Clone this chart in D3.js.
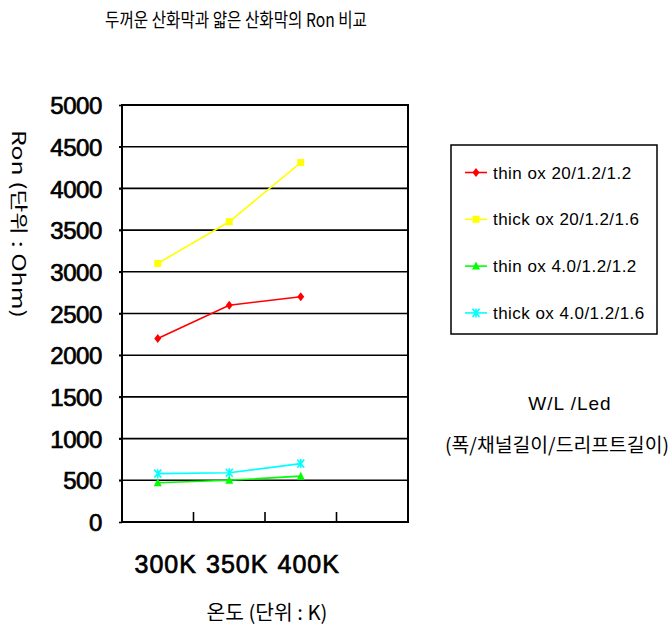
<!DOCTYPE html>
<html><head><meta charset="utf-8">
<script src="https://cdn.jsdelivr.net/npm/d3@7/dist/d3.min.js"></script>
<style>body{margin:0;background:#fff}svg{display:block}</style>
</head><body>
<svg id="c" width="670" height="627"></svg>
<script>
const categories = ["300K", "350K", "400K", ""];
const seriesNames = ["thin ox 20/1.2/1.2", "thick ox 20/1.2/1.6", "thin ox 4.0/1.2/1.2", "thick ox 4.0/1.2/1.6"];
const seriesColors = ["#ff0000", "#ffff00", "#00ff00", "#00ffff"];
const seriesMarkers = ["diamond", "square", "triangle", "x"];
const thinOx20 = [2200, 2600, 2700];
const thickOx20 = [3100, 3600, 4310];
const thinOx40 = [470, 500, 550];
const thickOx40 = [580, 590, 700];
const yTicks = [0, 500, 1000, 1500, 2000, 2500, 3000, 3500, 4000, 4500, 5000];
const titleText = "두꺼운 산화막과 얇은 산화막의 Ron 비교";
const yTitle = "Ron (단위 : Ohm)";
const xTitle = "온도 (단위 : K)";
const noteLines = ["W/L /Led", "(폭/채널길이/드리프트길이)"];

const series = [thinOx20, thickOx20, thinOx40, thickOx40];
const svg = d3.select("#c");
const L = 122, R = 408, T = 105, B = 522;
const x = d3.scaleBand().domain(categories).range([L, R]);
const y = d3.scaleLinear().domain([0, 5000]).range([B, T]);
const latin = "'Liberation Sans', Arial, sans-serif";
const kr = "'Noto Sans CJK KR', sans-serif";

// title
svg.append("text").attr("x", 236).attr("y", 27).attr("text-anchor", "middle")
  .attr("font-family", kr).attr("font-size", 19).attr("textLength", 262)
  .attr("lengthAdjust", "spacingAndGlyphs").text(titleText);

// gridlines
svg.append("g").selectAll("line").data(yTicks.filter(d => d > 0 && d < 5000)).join("line")
  .attr("x1", L - 3).attr("x2", R).attr("y1", d => y(d)).attr("y2", d => y(d))
  .attr("stroke", "#000").attr("stroke-width", 1.6);

// y axis labels
const ya = svg.append("g").attr("transform", `translate(${L},0)`)
  .call(d3.axisLeft(y).tickValues(yTicks).tickSize(3).tickPadding(17).tickFormat(d3.format("d")));
ya.select(".domain").remove();
ya.selectAll("line").attr("stroke", "#000").attr("stroke-width", 1.6);
ya.selectAll("text").attr("font-family", latin).attr("font-size", 24)
  .attr("letter-spacing", -0.4).attr("fill", "#000").attr("stroke", "#000").attr("stroke-width", 0.7)
  .attr("dy", "0.36em");

// x axis
const xa = svg.append("g").attr("transform", `translate(0,${B})`)
  .call(d3.axisBottom(x).tickSize(0).tickPadding(33));
xa.select(".domain").remove();
xa.selectAll("text").attr("font-family", latin).attr("font-size", 25)
  .attr("letter-spacing", 1).attr("fill", "#000").attr("stroke", "#000").attr("stroke-width", 0.7)
  .attr("dx", 8);
// inner x ticks at category boundaries
svg.append("g").selectAll("line").data(categories.slice(1)).join("line")
  .attr("x1", d => x(d)).attr("x2", d => x(d)).attr("y1", B).attr("y2", B - 10)
  .attr("stroke", "#000").attr("stroke-width", 1.6);

// plot border
svg.append("rect").attr("x", L).attr("y", T).attr("width", R - L).attr("height", B - T)
  .attr("fill", "none").attr("stroke", "#000").attr("stroke-width", 2);

// markers
function marker(sel, type, color, cx, cy) {
  if (type === "diamond") {
    sel.append("path").attr("d", `M${cx},${cy-4.5}L${cx+3.5},${cy}L${cx},${cy+4.5}L${cx-3.5},${cy}Z`).attr("fill", color);
  } else if (type === "square") {
    sel.append("rect").attr("x", cx - 3.5).attr("y", cy - 3.5).attr("width", 7).attr("height", 7).attr("fill", color);
  } else if (type === "triangle") {
    sel.append("path").attr("d", `M${cx},${cy-4.5}L${cx+4},${cy+3.5}L${cx-4},${cy+3.5}Z`).attr("fill", color);
  } else {
    sel.append("path").attr("d", `M${cx-3.5},${cy-4}L${cx+3.5},${cy+4}M${cx+3.5},${cy-4}L${cx-3.5},${cy+4}M${cx},${cy-4.5}L${cx},${cy+4.5}`)
      .attr("stroke", color).attr("stroke-width", 1.6).attr("fill", "none");
  }
}
const line = d3.line().x((d, i) => x(categories[i]) + x.bandwidth() / 2).y(d => y(d));
series.forEach((s, k) => {
  const g = svg.append("g");
  g.append("path").attr("d", line(s)).attr("fill", "none").attr("stroke", seriesColors[k]).attr("stroke-width", 1.6);
  s.forEach((v, i) => marker(g, seriesMarkers[k], seriesColors[k], x(categories[i]) + x.bandwidth() / 2, y(v)));
});

// legend
svg.append("rect").attr("x", 451).attr("y", 145).attr("width", 206).attr("height", 189)
  .attr("fill", "none").attr("stroke", "#000").attr("stroke-width", 1.5);
seriesNames.forEach((n, k) => {
  const ly = 172.5 + k * 46.8;
  const g = svg.append("g");
  g.append("line").attr("x1", 465).attr("x2", 487).attr("y1", ly).attr("y2", ly)
    .attr("stroke", seriesColors[k]).attr("stroke-width", 1.6);
  marker(g, seriesMarkers[k], seriesColors[k], 476, ly);
  g.append("text").attr("x", 493).attr("y", ly).attr("dy", "0.36em")
    .attr("font-family", latin).attr("font-size", 17).attr("letter-spacing", 0.45).text(n);
});

// axis titles
svg.append("text").attr("transform", "translate(12,224) rotate(90)").attr("text-anchor", "middle")
  .attr("font-family", kr).attr("font-size", 18).attr("textLength", 188)
  .attr("lengthAdjust", "spacingAndGlyphs").text(yTitle);
svg.append("text").attr("x", 267).attr("y", 620).attr("text-anchor", "middle")
  .attr("font-family", kr).attr("font-size", 20).attr("textLength", 121)
  .attr("lengthAdjust", "spacingAndGlyphs").text(xTitle);

// note
svg.append("text").attr("x", 570).attr("y", 410).attr("text-anchor", "middle")
  .attr("font-family", latin).attr("font-size", 19).attr("letter-spacing", 1).text(noteLines[0]);
svg.append("text").attr("x", 557).attr("y", 452).attr("text-anchor", "middle")
  .attr("font-family", kr).attr("font-size", 19).attr("textLength", 224)
  .attr("lengthAdjust", "spacingAndGlyphs").text(noteLines[1]);
</script>
</body></html>
